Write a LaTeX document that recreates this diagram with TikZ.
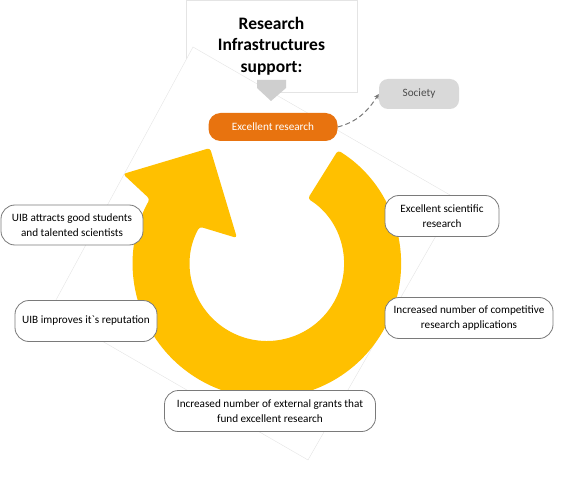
\documentclass[tikz,border=0pt]{standalone}
\usepackage{fontspec}
\setmainfont{Carlito}[Ligatures=TeXOff]
\usepackage{tikz}
\usetikzlibrary{positioning,calc,arrows.meta}
\definecolor{ringgold}{HTML}{FFC000}
\definecolor{orangebox}{HTML}{E8730F}
\definecolor{softgrey}{HTML}{D9D9D9}
\definecolor{pentgrey}{HTML}{CFCFCF}
\definecolor{faintline}{HTML}{E4E4E4}
\definecolor{boxline}{HTML}{7A7A7A}

\begin{document}
\begin{tikzpicture}[x=1pt,y=1pt,
  cyclebox/.style={draw=boxline, line width=0.8pt, fill=white, rounded corners=14pt,
    align=center, inner sep=0pt, minimum height=41pt, font=\fontsize{11.2}{15}\selectfont},
  resultbox/.style={fill=orangebox, text=white, rounded corners=12pt, inner sep=0pt,
    minimum width=129pt, minimum height=28pt, font=\fontsize{11.2}{13}\selectfont},
  societybox/.style={fill=softgrey, text=black!70, rounded corners=9pt, inner sep=0pt,
    minimum width=80pt, minimum height=30pt, font=\fontsize{11.2}{13}\selectfont}]
\useasboundingbox (0,0) rectangle (578,488);
% Title frame and tilted background square
\node[draw=faintline, fill=white, minimum width=171pt, minimum height=92pt] (titlebox) at (271.5,442) {};
\draw[faintline, fill=white] (193,441) -- (457,289) -- (308,28) -- (50,177) -- cycle;
\node[font=\fontsize{17.5}{21.5}\selectfont\bfseries, align=center] (title) at (titlebox.center) {Research\\Infrastructures\\support:};
\fill[pentgrey] (257,408) -- (286,408) -- (286,400) -- (271,387) -- (257,400) -- cycle;
% Circular arrow
\coordinate (ctr) at (267,224);
\fill[ringgold, rounded corners=3pt] (ctr) ++(58:134) arc[start angle=58, end angle=-209, radius=134]
  -- (123,314) -- (210,340) -- (237,250) -- ($(ctr)+(151:77)$)
  arc[start angle=-209, end angle=58, radius=77] -- cycle;
% Result and society
\node[resultbox] (excres) at (273,361) {Excellent research};
\node[societybox] (society) at (419,394) {Society};
\draw[boxline, line width=1pt, dash pattern=on 5pt off 3pt, -{Stealth[length=5pt,width=5pt]}]
  (excres.east) to[out=15, in=237] (society.west);
% Cycle steps
\node[cyclebox, minimum width=142pt, minimum height=40pt] (attract) at (72,263) {UIB attracts good students\\and talented scientists};
\node[cyclebox, minimum width=142pt] (reputation) at (86,167) {UIB improves it`s reputation};
\node[cyclebox, minimum width=114pt] (science) at (442,272) {Excellent scientific\\research};
\node[cyclebox, minimum width=168pt] (applications) at (469,170) {Increased number of competitive\\research applications};
\node[cyclebox, minimum width=211pt] (grants) at (270,77) {Increased number of external grants that\\fund excellent research};
\end{tikzpicture}
\end{document}
